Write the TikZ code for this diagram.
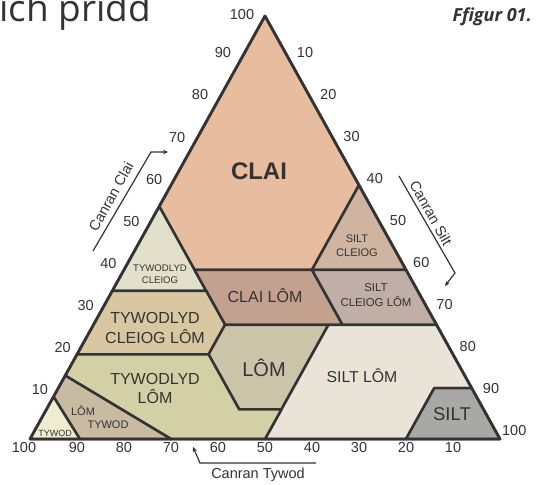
\documentclass[tikz,border=0pt]{standalone}
\usepackage{fontspec}
\setmainfont{Liberation Sans}
\newfontfamily\titlefont{Open Sans}
\usetikzlibrary{arrows.meta}
\definecolor{edge}{HTML}{333333}
\definecolor{txt}{HTML}{333333}
\definecolor{cClay}{HTML}{E8BD9F}
\definecolor{cSandyClay}{HTML}{E2DFCB}
\definecolor{cSiltyClay}{HTML}{CFB4A1}
\definecolor{cClayLoam}{HTML}{C3A18E}
\definecolor{cSiltyClayLoam}{HTML}{C1AEA6}
\definecolor{cSandyClayLoam}{HTML}{D9C7A2}
\definecolor{cLoam}{HTML}{CCC4A9}
\definecolor{cSandyLoam}{HTML}{D3D0A5}
\definecolor{cLoamySand}{HTML}{C9BBA2}
\definecolor{cSand}{HTML}{EEEDCF}
\definecolor{cSiltLoam}{HTML}{E9E3D8}
\definecolor{cSilt}{HTML}{A8A9A7}
\begin{document}
\begin{tikzpicture}[x=1pt,y=-1pt,
  region/.style={draw=edge,line width=2.5pt,line join=round},
  num/.style={font=\fontsize{14.5}{16}\selectfont,text=txt,inner sep=0pt},
  lbl/.style={text=txt,inner sep=0pt,align=center},
  axisarrow/.style={draw=edge,line width=1.2pt,-{Stealth[length=5pt,width=4.5pt]}},
  axislbl/.style={font=\fontsize{14.5}{16}\selectfont,text=txt,inner sep=0pt}]
\clip (0,0) rectangle (544,485);
\useasboundingbox (0,0) rectangle (544,485);
% corners
\coordinate (L) at (30,439);
\coordinate (R) at (500,439);
\coordinate (A) at (265,16);
% (sand, silt, clay) as fractions
\coordinate (c1) at (barycentric cs:L=.45,R=0,A=.55);
\coordinate (c2) at (barycentric cs:L=.45,R=.15,A=.40);
\coordinate (c3) at (barycentric cs:L=.20,R=.40,A=.40);
\coordinate (c4) at (barycentric cs:L=0,R=.40,A=.60);
\coordinate (c5) at (barycentric cs:L=.65,R=0,A=.35);
\coordinate (c6) at (barycentric cs:L=.45,R=.20,A=.35);
\coordinate (c7) at (barycentric cs:L=0,R=.60,A=.40);
\coordinate (c8) at (barycentric cs:L=.20,R=.53,A=.27);
\coordinate (c9) at (barycentric cs:L=.45,R=.28,A=.27);
\coordinate (c10) at (barycentric cs:L=0,R=.73,A=.27);
\coordinate (c11) at (barycentric cs:L=.52,R=.28,A=.20);
\coordinate (c12) at (barycentric cs:L=.80,R=0,A=.20);
\coordinate (c13) at (barycentric cs:L=.23,R=.50,A=.27);
\coordinate (c14) at (barycentric cs:L=.43,R=.50,A=.07);
\coordinate (c15) at (barycentric cs:L=.52,R=.41,A=.07);
\coordinate (c16) at (barycentric cs:L=0,R=.88,A=.12);
\coordinate (c17) at (barycentric cs:L=.08,R=.80,A=.12);
\coordinate (c18) at (barycentric cs:L=.20,R=.80,A=0);
\coordinate (c19) at (barycentric cs:L=.50,R=.50,A=0);
\coordinate (c20) at (barycentric cs:L=.70,R=.30,A=0);
\coordinate (c21) at (barycentric cs:L=.85,R=0,A=.15);
\coordinate (c22) at (barycentric cs:L=.894,R=.106,A=0);
\coordinate (c23) at (barycentric cs:L=.90,R=0,A=.10);
% regions
\path[region,fill=cClay] (A) -- (c1) -- (c2) -- (c3) -- (c4) -- cycle;
\path[region,fill=cSandyClay] (c1) -- (c5) -- (c6) -- cycle;
\path[region,fill=cSiltyClay] (c4) -- (c3) -- (c7) -- cycle;
\path[region,fill=cClayLoam] (c2) -- (c3) -- (c8) -- (c9) -- (c6) -- cycle;
\path[region,fill=cSiltyClayLoam] (c3) -- (c7) -- (c10) -- (c8) -- cycle;
\path[region,fill=cSandyClayLoam] (c5) -- (c6) -- (c9) -- (c11) -- (c12) -- cycle;
\path[region,fill=cLoam] (c9) -- (c13) -- (c14) -- (c15) -- (c11) -- cycle;
\path[region,fill=cSiltLoam] (c13) -- (c10) -- (c16) -- (c17) -- (c18) -- (c19) -- (c14) -- cycle;
\path[region,fill=cSilt] (c17) -- (c16) -- (R) -- (c18) -- cycle;
\path[region,fill=cSandyLoam] (c12) -- (c11) -- (c15) -- (c14) -- (c19) -- (c20) -- (c21) -- cycle;
\path[region,fill=cLoamySand] (c21) -- (c20) -- (c22) -- (c23) -- cycle;
\path[region,fill=cSand] (L) -- (c22) -- (c23) -- cycle;
\draw[draw=edge,line width=2.7pt,line join=round] (L) -- (R) -- (A) -- cycle;
% region labels
\node[lbl,font=\bfseries\fontsize{24}{26}\selectfont] (nclay) at (259,171.5) {CLAI};
\node[lbl,font=\fontsize{9.6}{12}\selectfont] (nsc) at (160,274.5) {TYWODLYD\\CLEIOG};
\node[lbl,font=\fontsize{11}{14}\selectfont] (nsic) at (357,246) {SILT\\CLEIOG};
\node[lbl,font=\fontsize{16}{18}\selectfont] (ncl) at (265,296) {CLAI LÔM};
\node[lbl,font=\fontsize{11.4}{15}\selectfont] (nsicl) at (376,295.5) {SILT\\CLEIOG LÔM};
\node[lbl,font=\fontsize{16}{20}\selectfont] (nscl) at (155,327.5) {TYWODLYD\\CLEIOG LÔM};
\node[lbl,font=\fontsize{20}{22}\selectfont] (nloam) at (264,368) {LÔM};
\node[lbl,font=\fontsize{16}{19.5}\selectfont] (nsl) at (155,388.5) {TYWODLYD\\LÔM};
\node[lbl,font=\fontsize{11}{13}\selectfont] (nls1) at (83,411) {LÔM};
\node[lbl,font=\fontsize{11}{13}\selectfont] (nls2) at (108,424.5) {TYWOD};
\node[lbl,font=\fontsize{9}{11}\selectfont] (nsand) at (55,433) {TYWOD};
\node[lbl,font=\fontsize{15.8}{18}\selectfont] (nsil) at (362,376) {SILT LÔM};
\node[lbl,font=\fontsize{18.5}{20}\selectfont] (nsilt) at (452,414) {SILT};
% axis numbers
\node[num] (l100) at (242,15) {100};
\foreach \c in {10,20,...,90}
  \node[num] (l\c) at ({17+2.2875*\c},{432-4.2125*\c}) {\c};
\foreach \t in {10,20,...,100}
  \node[num] (r\t) at ({281.75+2.325*\t},{11+4.2*\t}) {\t};
\node[num] (b100) at (24,448) {100};
\foreach \s in {90,80,...,10}
  \node[num] (b\s) at ({30+4.7*(100-\s)},448) {\s};
% axis captions
\coordinate (ca1) at (93,251);
\coordinate (ca2) at (151,152);
\coordinate (ca3) at (168,152);
\draw[axisarrow] (ca1) -- (ca2) -- (ca3);
\node[axislbl,rotate=60.9] (tclai) at (111,197) {Canran Clai};
\coordinate (cs1) at (399,176);
\coordinate (cs2) at (455,273);
\coordinate (cs3) at (445,286);
\draw[axisarrow] (cs1) -- (cs2) -- (cs3);
\node[axislbl,rotate=-60.9] (tsilt) at (431,213) {Canran Silt};
\coordinate (ct1) at (316,463);
\coordinate (ct2) at (200,463);
\coordinate (ct3) at (193,447);
\draw[axisarrow] (ct1) -- (ct2) -- (ct3);
\node[axislbl] (ttywod) at (258,475) {Canran Tywod};
% title fragments
\node[anchor=base west,inner sep=0pt,text=txt,font=\titlefont\fontsize{37}{40}\selectfont] (title) at (-1,21.5) {ich pridd};
\node[anchor=base east,inner sep=0pt,text=txt,font=\titlefont\bfseries\itshape\fontsize{18}{20}\selectfont] (fig) at (532,21) {Ffigur 01.};
\end{tikzpicture}
\end{document}
